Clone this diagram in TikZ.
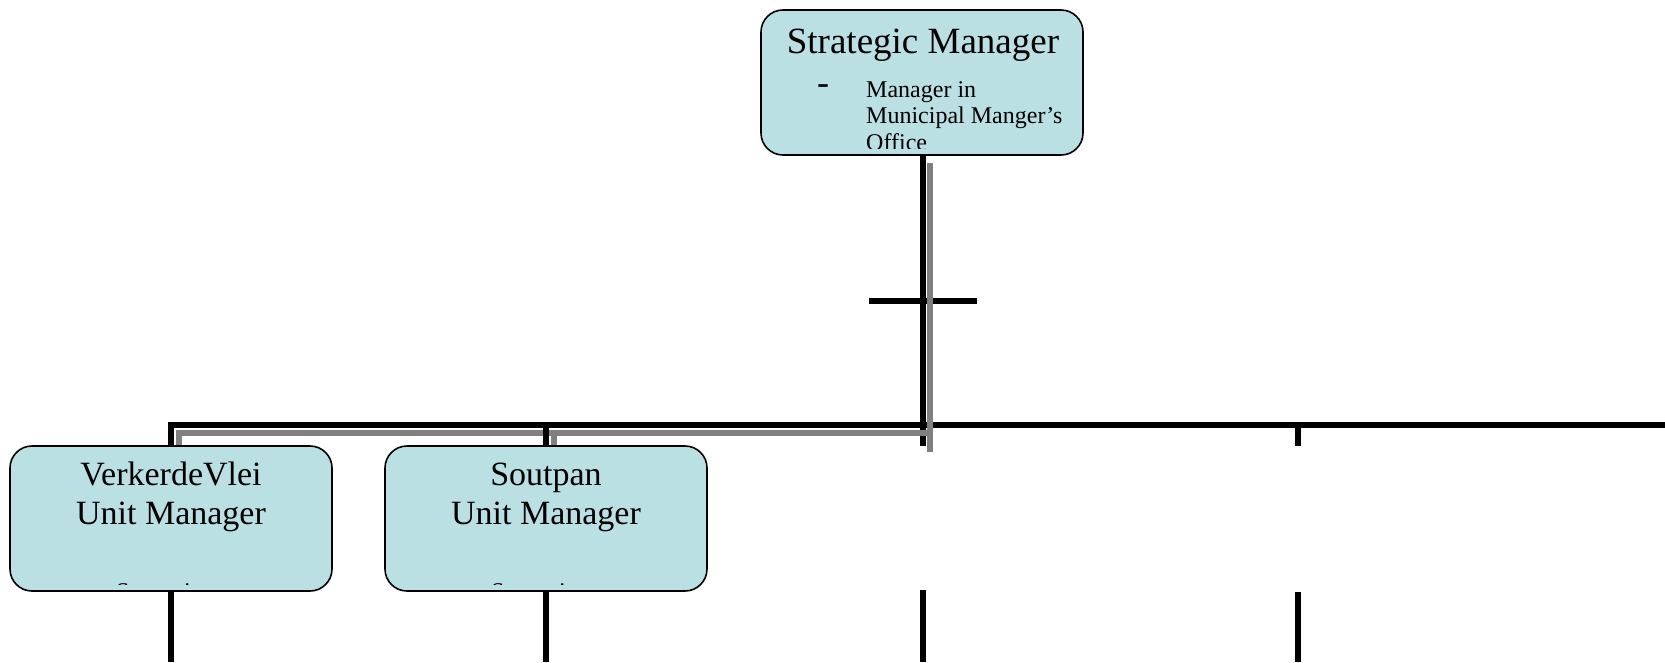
\documentclass[tikz,border=0pt]{standalone}
\usepackage{fontspec}
\setmainfont{Liberation Serif}
\definecolor{boxfill}{RGB}{187,224,227}
\definecolor{linegrey}{RGB}{128,128,128}
\tikzset{
  orgbox/.style={draw=black, line width=1.6pt, fill=boxfill, rounded corners=22pt,
    minimum width=322pt, minimum height=145pt, inner sep=0pt},
  blk/.style={draw=black, line width=5.5pt},
  gry/.style={draw=linegrey, line width=6pt},
  titletext/.style={anchor=base, inner sep=0pt, font=\fontsize{37}{44}\selectfont},
  unittext/.style={anchor=base, inner sep=0pt, font=\fontsize{34}{40}\selectfont},
  smalltext/.style={anchor=base west, inner sep=0pt, font=\fontsize{24}{27}\selectfont},
  dashtext/.style={anchor=base west, inner sep=0pt, font=\fontsize{36}{40}\selectfont},
}
\begin{document}
\begin{tikzpicture}[x=1pt,y=-1pt]
\useasboundingbox (0,0) rectangle (1665,662);
\path (922,82.5) coordinate (smc);
\path (171,518.5) coordinate (vvc);
\path (546,518.5) coordinate (spc);
% connector coordinates
\coordinate (trunkTop) at (923,155);
\coordinate (trunkBot) at (923,446);
\coordinate (crossL) at (869,301);
\coordinate (crossR) at (977,301);
\coordinate (busL) at (171,425);
\coordinate (busR) at (1665,425);
\coordinate (vvTop) at (171,446);
\coordinate (spBus) at (546,425);
\coordinate (spTop) at (546,446);
\coordinate (c4Bus) at (1298,425);
\coordinate (c4Top) at (1298,446);
\coordinate (gTop) at (930,163);
\coordinate (gBot) at (930,452);
\coordinate (gBus) at (930,433);
\coordinate (gvvBus) at (179,433);
\coordinate (gvvTop) at (179,446);
\coordinate (gspBus) at (554,433);
\coordinate (gspTop) at (554,446);
\coordinate (vvBot) at (171,591);
\coordinate (vvEnd) at (171,662);
\coordinate (spBot) at (546,591);
\coordinate (spEnd) at (546,662);
\coordinate (c3Bot) at (923,590);
\coordinate (c3End) at (923,662);
\coordinate (c4Bot) at (1298,592);
\coordinate (c4End) at (1298,662);
% black trunk, crossbar and bus
\draw[blk] (trunkTop) -- (trunkBot);
\draw[blk] (crossL) -- (crossR);
\draw[blk] (vvTop) -- (busL) -- (busR);
% grey lines
\draw[gry] (gTop) -- (gBot);
\draw[gry] (gvvTop) -- (gvvBus) -- (gBus);
\draw[gry] (gspBus) -- (gspTop);
% black drops
\draw[blk] (spBus) -- (spTop);
\draw[blk] (c4Bus) -- (c4Top);
\draw[blk] (vvBot) -- (vvEnd);
\draw[blk] (spBot) -- (spEnd);
\draw[blk] (c3Bot) -- (c3End);
\draw[blk] (c4Bot) -- (c4End);
% boxes
\node[orgbox] (sm) at (smc) {};
\node[orgbox] (vv) at (vvc) {};
\node[orgbox] (sp) at (spc) {};
% strategic manager text
\begin{scope}
\clip (761,10) rectangle (1083,148);
\node[titletext] (smt) at (923,53) {Strategic Manager};
\node[dashtext] (smd) at (817,94) {-};
\node[smalltext] (sm1) at (866,97) {Manager in};
\node[smalltext] (sm2) at (866,123.5) {Municipal Manger’s};
\node[smalltext] (sm3) at (866,150) {Office};
\end{scope}
% VerkerdeVlei text
\begin{scope}
\clip (10,446) rectangle (332,584);
\node[unittext] (vv1) at (171,485) {VerkerdeVlei};
\node[unittext] (vv2) at (171,524) {Unit Manager};
\node[dashtext] (vvd) at (65,600) {-};
\node[smalltext] (vv3) at (116,599.5) {Supervisor};
\end{scope}
% Soutpan text
\begin{scope}
\clip (385,446) rectangle (707,584);
\node[unittext] (sp1) at (546,485) {Soutpan};
\node[unittext] (sp2) at (546,524) {Unit Manager};
\node[dashtext] (spd) at (440,600) {-};
\node[smalltext] (sp3) at (491,599.5) {Supervisor};
\end{scope}
\end{tikzpicture}
\end{document}
